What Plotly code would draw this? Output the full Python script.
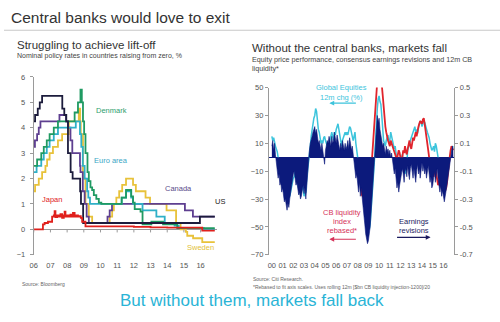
import plotly.graph_objects as go

# ---------------- Left chart: nominal policy rates (step series) ----------------
us_x = [2006.0, 2006.08, 2006.24, 2006.36, 2006.5, 2007.71, 2007.83, 2007.95, 2008.05, 2008.21, 2008.33, 2008.78, 2008.83, 2008.96, 2015.96, 2016.85]
us_y = [4.25, 4.5, 4.75, 5.0, 5.25, 4.75, 4.5, 4.25, 3.0, 2.25, 2.0, 1.5, 1.0, 0.25, 0.5, 0.5]

canada_x = [2006.0, 2006.07, 2006.2, 2006.3, 2006.4, 2007.54, 2007.93, 2008.06, 2008.2, 2008.31, 2008.77, 2008.8, 2008.94, 2009.05, 2009.17, 2009.3, 2010.42, 2010.55, 2010.69, 2015.06, 2015.54, 2016.85]
canada_y = [3.25, 3.5, 3.75, 4.0, 4.25, 4.5, 4.25, 4.0, 3.5, 3.0, 2.5, 2.25, 1.5, 1.0, 0.5, 0.25, 0.5, 0.75, 1.0, 0.75, 0.5, 0.5]

euro_x = [2006.0, 2006.17, 2006.45, 2006.6, 2006.78, 2006.95, 2007.2, 2007.45, 2008.52, 2008.77, 2008.85, 2008.94, 2009.05, 2009.2, 2009.27, 2009.37, 2011.27, 2011.53, 2011.84, 2011.95, 2012.52, 2013.35, 2013.85, 2014.44, 2014.69, 2016.2, 2016.85]
euro_y = [2.25, 2.5, 2.75, 3.0, 3.25, 3.5, 3.75, 4.0, 4.25, 3.75, 3.25, 2.5, 2.0, 1.5, 1.25, 1.0, 1.25, 1.5, 1.25, 1.0, 0.75, 0.5, 0.25, 0.15, 0.05, 0.0, 0.0]

denmark_x = [2006.0, 2006.2, 2006.45, 2006.6, 2006.78, 2006.95, 2007.2, 2007.45, 2008.45, 2008.65, 2008.8, 2008.88, 2008.95, 2009.02, 2009.1, 2009.22, 2009.3, 2009.4, 2009.5, 2009.6, 2009.75, 2009.9, 2010.05, 2011.27, 2011.53, 2011.84, 2011.95, 2012.05, 2012.4, 2012.52, 2013.05, 2013.75, 2014.6, 2016.85]
denmark_y = [2.5, 2.75, 3.0, 3.25, 3.5, 3.75, 4.0, 4.25, 4.6, 5.0, 5.5, 5.0, 4.25, 3.75, 3.0, 2.25, 1.9, 1.65, 1.55, 1.35, 1.2, 1.05, 1.0, 1.25, 1.55, 1.3, 1.05, 0.8, 0.7, 0.2, 0.3, 0.2, 0.05, 0.05]

sweden_x = [2006.0, 2006.08, 2006.3, 2006.5, 2006.7, 2006.8, 2006.95, 2007.15, 2007.45, 2007.7, 2008.1, 2008.7, 2008.78, 2008.82, 2008.95, 2009.1, 2009.3, 2009.5, 2010.55, 2010.7, 2010.8, 2010.95, 2011.12, 2011.3, 2011.53, 2011.95, 2012.12, 2012.7, 2012.97, 2013.96, 2014.53, 2014.8, 2015.12, 2015.2, 2015.55, 2016.1, 2016.85]
sweden_y = [1.5, 1.75, 2.0, 2.25, 2.5, 2.75, 3.0, 3.25, 3.5, 3.75, 4.25, 4.75, 4.25, 3.75, 2.0, 1.0, 0.5, 0.25, 0.5, 0.75, 1.0, 1.25, 1.5, 1.75, 2.0, 1.75, 1.5, 1.25, 1.0, 0.75, 0.25, 0.0, -0.1, -0.25, -0.35, -0.5, -0.5]

japan_x = [2006.0, 2006.55, 2006.65, 2006.85, 2007.1, 2007.2, 2007.25, 2007.3, 2007.4, 2007.5, 2007.6, 2007.7, 2007.8, 2007.85, 2007.9, 2008.0, 2008.1, 2008.2, 2008.3, 2008.35, 2008.45, 2008.55, 2008.65, 2008.75, 2008.82, 2008.9, 2009.1, 2012.0, 2013.0, 2014.0, 2015.0, 2016.1, 2016.85]
japan_y = [0.0, 0.2, 0.25, 0.3, 0.5, 0.55, 0.72, 0.48, 0.55, 0.5, 0.6, 0.45, 0.55, 0.7, 0.5, 0.55, 0.5, 0.58, 0.5, 0.65, 0.5, 0.55, 0.5, 0.52, 0.45, 0.3, 0.12, 0.1, 0.08, 0.07, 0.07, -0.05, -0.05]

left_years = list(range(2006, 2017))
left_year_labels = ["06", "07", "08", "09", "10", "11", "12", "13", "14", "15", "16"]
left_yticks = [-1, 0, 1, 2, 3, 4, 5, 6]

# ---------------- Right chart: monthly series from Jan 2000 ----------------
earnings_revisions = [  # right axis
    0.08, 0.12, 0.05, 0.10, 0.02, -0.05, -0.10, -0.15, -0.12, -0.20, -0.18, -0.25,
    -0.22, -0.28, -0.32, -0.30, -0.35, -0.38, -0.33, -0.36, -0.30, -0.25, -0.20, -0.15,
    -0.12, -0.10, -0.15, -0.20, -0.18, -0.22, -0.27, -0.25, -0.30, -0.28, -0.24, -0.20,
    -0.26, -0.22, -0.30, -0.20, -0.10, -0.02, 0.05, 0.10, 0.12, 0.15, 0.18, 0.20,
    0.22, 0.17, 0.20, 0.15, 0.10, 0.12, 0.08, 0.05, 0.10, 0.06, 0.02, -0.05,
    0.05, 0.08, 0.12, 0.10, 0.15, 0.12, 0.08, 0.15, 0.10, 0.12, 0.18, 0.14,
    0.10, 0.16, 0.12, 0.08, 0.05, 0.10, 0.06, 0.12, 0.08, 0.05, 0.10, 0.06,
    0.08, 0.12, 0.06, 0.14, 0.10, 0.05, 0.08, 0.02, -0.05, -0.10, -0.15, -0.12,
    -0.20, -0.25, -0.18, -0.28, -0.22, -0.30, -0.35, -0.42, -0.48, -0.55, -0.58, -0.62,
    -0.60, -0.55, -0.50, -0.40, -0.30, -0.20, -0.10, 0.05, 0.15, 0.22, 0.30, 0.25,
    0.28, 0.20, 0.15, 0.12, 0.08, 0.10, 0.05, 0.02, 0.08, 0.04, 0.06, 0.02,
    0.05, 0.00, 0.03, -0.02, -0.05, -0.12, -0.08, -0.15, -0.22, -0.18, -0.25, -0.20,
    -0.15, -0.10, -0.08, -0.12, -0.18, -0.10, -0.08, -0.14, -0.06, -0.12, -0.16, -0.08,
    -0.05, -0.10, -0.15, -0.08, -0.12, -0.18, -0.10, -0.05, -0.12, -0.08, -0.15, -0.06,
    -0.04, -0.10, -0.06, -0.12, -0.08, -0.15, -0.10, -0.06, -0.12, -0.18, -0.14, -0.22,
    -0.20, -0.15, -0.10, -0.18, -0.12, -0.08, -0.15, -0.22, -0.25, -0.20, -0.28, -0.24,
    -0.30, -0.32, -0.28, -0.25, -0.20, -0.15, -0.10, -0.05, 0.02, 0.05, 0.08, 0.06,
]

global_equities = [  # left axis, 12m change %
    15, 12, 14, 10, 8, 6, 4, 0, -3, -5, -8, -10,
    -8, -15, -20, -18, -14, -16, -18, -20, -28, -25, -20, -17,
    -15, -14, -10, -12, -16, -20, -22, -20, -27, -24, -18, -22,
    -28, -26, -25, -15, -10, -5, 2, 8, 15, 20, 22, 28,
    30, 35, 33, 25, 20, 18, 12, 10, 12, 10, 14, 15,
    12, 10, 8, 6, 10, 12, 15, 18, 14, 12, 18, 16,
    20, 22, 24, 20, 15, 10, 8, 12, 14, 16, 18, 16,
    18, 16, 20, 22, 21, 18, 14, 12, 15, 18, 10, 5,
    0, -5, -10, -8, -10, -15, -20, -25, -30, -40, -45, -48,
    -50, -52, -48, -40, -30, -20, -10, 0, 15, 25, 35, 42,
    44, 40, 38, 30, 20, 12, 10, 8, 12, 14, 16, 10,
    12, 18, 15, 12, 10, 6, 8, 2, -6, -8, -4, -10,
    -6, -2, 2, -8, -10, -12, -8, -5, 5, 8, 10, 12,
    14, 16, 18, 20, 22, 18, 20, 17, 22, 24, 26, 25,
    22, 24, 26, 25, 22, 20, 18, 16, 14, 10, 8, 5,
    6, 8, 4, 10, 8, 5, 0, -4, -8, -5, -2, -8,
    -12, -18, -20, -15, -10, -12, -5, 0, 2, 5, 8, 7,
]

cb_liquidity_start = 2008 + 4 / 12  # May 2008
cb_liquidity = [  # left axis, rebased
    -22, -28, -25, -30, -35, -40, -44, -42,
    -38, -30, -20, -10, 0, 10, 20, 30, 40, 50, 55, 58,
    60, 58, 55, 52, 45, 35, 28, 22, 18, 14, 12, 10,
    8, 12, 10, 8, 6, 4, 2, 0, -2, 2, 5, 3,
    -2, -4, 0, 5, 3, 8, 4, 2, 6, 10, 12, 8,
    6, 10, 14, 12, 16, 18, 15, 20, 22, 24, 26, 25,
    24, 27, 28, 24, 20, 15, 10, 5, 0, -5, -8, -10,
    -12, -14, -10, -8, -12, -16, -20, -18, -15, -20, -22, -24,
    -20, -25, -24, -22, -18, -10, -5, 0, 5, 8, 6, 5,
]

right_years = list(range(2000, 2017))
right_year_labels = ["00", "01", "02", "03", "04", "05", "06", "07", "08", "09",
                     "10", "11", "12", "13", "14", "15", "16"]
right_left_ticks = [50, 30, 10, -10, -30, -50, -70]
right_right_ticks = [0.5, 0.3, 0.1, -0.1, -0.3, -0.5, -0.7]
right_right_labels = ["0.5", "0.3", "0.1", "-0.1", "-0.3", "-0.5", "-0.7"]

month_x = [2000 + i / 12 for i in range(len(earnings_revisions))]
cb_x = [cb_liquidity_start + i / 12 for i in range(len(cb_liquidity))]

# ---------------- Styling ----------------
FONT = "Arial, Liberation Sans, sans-serif"
W, H = 500, 322
def px(x):
    return x / W
def py(y):
    return 1 - y / H

C_US = "#1c1c3c"
C_CAN = "#5e3f90"
C_DEN = "#1f9a62"
C_EUR = "#2fb0c8"
C_SWE = "#e8c23a"
C_JAP = "#e0201c"
C_NAVY = "#0c1a7c"
C_CYAN = "#3cc4dc"
C_RED = "#e0242c"
AX = "#9a9a9a"
TXT = "#555555"

fig = go.Figure()

step_series = [
    (sweden_x, sweden_y, C_SWE),
    (canada_x, canada_y, C_CAN),
    (euro_x, euro_y, C_EUR),
    (denmark_x, denmark_y, C_DEN),
    (us_x, us_y, C_US),
    (japan_x, japan_y, C_JAP),
]
for xs, ys, col in step_series:
    fig.add_trace(go.Scatter(x=xs, y=ys, mode="lines", line=dict(color=col, width=1.8, shape="hv"),
                             xaxis="x", yaxis="y", showlegend=False, hoverinfo="skip"))

# Right chart
fig.add_trace(go.Scatter(x=month_x, y=earnings_revisions, mode="lines", fill="tozeroy",
                         fillcolor=C_NAVY, line=dict(color=C_NAVY, width=0.6),
                         xaxis="x2", yaxis="y3", showlegend=False, hoverinfo="skip"))
fig.add_trace(go.Scatter(x=month_x, y=global_equities, mode="lines",
                         line=dict(color=C_CYAN, width=1.5),
                         xaxis="x2", yaxis="y2", showlegend=False, hoverinfo="skip"))
fig.add_trace(go.Scatter(x=cb_x, y=cb_liquidity, mode="lines",
                         line=dict(color=C_RED, width=1.8),
                         xaxis="x2", yaxis="y2", showlegend=False, hoverinfo="skip"))

tickfont = dict(family=FONT, size=7.5, color=TXT)

fig.update_layout(
    width=W, height=H, margin=dict(l=0, r=0, t=0, b=0),
    paper_bgcolor="white", plot_bgcolor="rgba(0,0,0,0)",
    xaxis=dict(domain=[px(30), px(215)], range=[2006, 2017.0], anchor="y",
               tickvals=left_years, ticktext=left_year_labels, tickfont=tickfont,
               showgrid=False, zeroline=False, showline=False, ticks="", ticklabelstandoff=5),
    yaxis=dict(domain=[py(258), py(75)], range=[-1, 6], anchor="x",
               tickvals=left_yticks, tickfont=tickfont, showgrid=False,
               zeroline=True, zerolinecolor=AX, zerolinewidth=1, ticklabelstandoff=3,
               showline=True, linecolor=AX, linewidth=1, ticks="outside", ticklen=3, tickcolor=AX),
    xaxis2=dict(domain=[px(267), px(454)], range=[1999.72, 2017.02], anchor="y2",
                tickvals=right_years, ticktext=right_year_labels, tickfont=tickfont,
                showgrid=False, zeroline=False, showline=False, ticks="", ticklabelstandoff=5),
    yaxis2=dict(domain=[py(258), py(86)], range=[-70, 50], anchor="x2",
                tickvals=right_left_ticks, tickfont=tickfont, showgrid=False,
                zeroline=True, zerolinecolor=C_NAVY, zerolinewidth=1,
                showline=True, linecolor=AX, linewidth=1, ticks="outside", ticklen=3, tickcolor=AX),
    yaxis3=dict(overlaying="y2", side="right", anchor="x2", range=[-0.7, 0.5],
                tickvals=right_right_ticks, ticktext=right_right_labels, tickfont=tickfont,
                showgrid=False, zeroline=False,
                showline=True, linecolor=AX, linewidth=1, ticks="outside", ticklen=3, tickcolor=AX),
)

# small tick marks on left chart's zero line
shapes = []
for yv in left_years:
    shapes.append(dict(type="line", xref="x", yref="y", x0=yv, x1=yv, y0=0, y1=-0.12,
                       line=dict(color=AX, width=1)))
# rule under the main title
shapes.append(dict(type="line", xref="paper", yref="paper", x0=0, x1=1, y0=py(27), y1=py(27),
                   line=dict(color="#c8c8c8", width=1)))
fig.update_layout(shapes=shapes)

ann = []
def text(x, y, s, size, color, xanchor="left", yanchor="middle"):
    ann.append(dict(x=px(x), y=py(y), xref="paper", yref="paper", text=s, showarrow=False,
                    xanchor=xanchor, yanchor=yanchor, align="center",
                    font=dict(family=FONT, size=size, color=color)))

def arrow(x_head, x_tail, y, color):
    ann.append(dict(x=px(x_head), y=py(y), xref="paper", yref="paper", text="",
                    showarrow=True, ax=x_tail - x_head, ay=0, axref="pixel", ayref="pixel",
                    arrowhead=2, arrowsize=0.8, arrowwidth=1.2, arrowcolor=color))

text(5, 14, "Central banks would love to exit", 15.5, "#333333")
text(11, 42, "Struggling to achieve lift-off", 11.5, "#333333")
text(11, 54, "Nominal policy rates in countries raising from zero, %", 7, "#444444")
text(248, 45, "Without the central banks, markets fall", 11.5, "#333333")
text(248, 57, "Equity price performance, consensus earnings revisions and 12m CB", 7.2, "#444444")
text(248, 66, "liquidity*", 7.2, "#444444")

# left chart labels
text(108, 110, "Denmark", 7.5, "#2e9e6e", "center")
text(108, 161, "Euro area", 7.5, "#3aa7c6", "center")
text(176, 190, "Canada", 7.5, "#5a4a8a", "center")
text(218, 203, "US", 7.5, "#222222", "center")
text(48, 201, "Japan", 7.5, C_JAP, "center")
text(198, 251, "Sweden", 7.5, "#e3c23a", "center")

# right chart labels
text(340, 86, "Global Equities", 7.5, C_CYAN, "center")
text(340, 96, "12m chg (%)", 7.5, C_CYAN, "center")
arrow(328, 356, 102, C_CYAN)
text(341, 215, "CB liquidity", 7.5, "#d6335a", "center")
text(341, 224, "index", 7.5, "#d6335a", "center")
text(341, 233, "rebased*", 7.5, "#d6335a", "center")
arrow(328, 356, 242, "#d6335a")
text(413, 224, "Earnings", 7.5, "#1a1a5e", "center")
text(413, 233, "revisions", 7.5, "#1a1a5e", "center")
arrow(430, 395, 240, "#1a1a5e")

# sources
text(16, 288, "Source: Bloomberg", 5, "#666666")
text(249, 283, "Source: Citi Research.", 5, "#666666")
text(249, 291, "*Rebased to fit axis scales. Uses rolling 12m [$bn CB liquidity injection-1200]/20", 5, "#666666")

# bottom headline
text(250, 305, "But without them, markets fall back", 17, "#2ab4d6", "center")

fig.update_layout(annotations=ann)
fig.write_html("out.html")
